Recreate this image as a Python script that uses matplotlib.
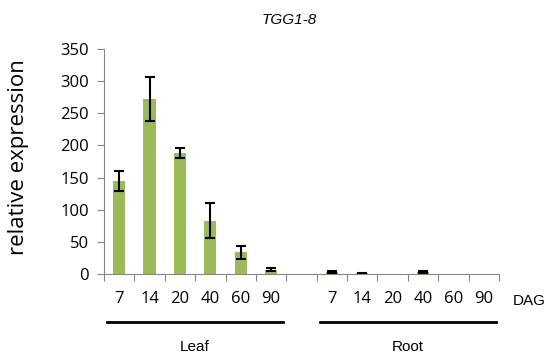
import numpy as np
import matplotlib
matplotlib.use('Agg')
import matplotlib.pyplot as plt
from matplotlib.transforms import blended_transform_factory

plt.rcParams['font.family'] = ['Open Sans', 'DejaVu Sans']

# --- Data ---
days = ['7', '14', '20', '40', '60', '90']
groups = ['Leaf', 'Root']
leaf_vals = [145, 272, 188, 83, 34, 7]
leaf_err = [16, 34, 8, 27, 10, 2]
root_vals = [3, 1, 0, 3, 0, 0]
root_err = [1.5, 0.5, 0, 1.5, 0, 0]

bar_color = '#9bbb59'

fig = plt.figure(figsize=(5.51, 3.56), dpi=100)
ax = fig.add_axes([0.1887, 0.2303, 0.7169, 0.6321])

# leaf in slots 0-5, empty slot 6, root in slots 7-12
x_leaf = np.arange(len(days))
x_root = np.arange(len(days)) + len(days) + 1
for xs, vals, errs in [(x_leaf, leaf_vals, leaf_err), (x_root, root_vals, root_err)]:
    ax.bar(xs, vals, width=0.4, color=bar_color)
    vals, errs = np.array(vals, float), np.array(errs, float)
    keep = errs > 0
    ax.errorbar(xs[keep], vals[keep], yerr=errs[keep], fmt='none', ecolor='black',
                elinewidth=1.5, capsize=3.5, capthick=1.5)

ax.set_xlim(-0.5, 12.5)
ax.set_ylim(0, 350)
ax.set_yticks(np.arange(0, 351, 50))
ax.tick_params(axis='y', labelsize=12, color='#868686', length=5, pad=6)

# x ticks at slot borders, labels in the slot centres
ax.set_xticks(np.arange(-0.5, 13, 1.0))
ax.set_xticklabels([])
ax.tick_params(axis='x', color='#868686', length=5)
ax.set_xticks(np.concatenate([x_leaf, x_root]), minor=True)
ax.set_xticklabels(days + days, minor=True, fontsize=12)
ax.tick_params(axis='x', which='minor', length=0, pad=12)

for s in ['top', 'right']:
    ax.spines[s].set_visible(False)
for s in ['left', 'bottom']:
    ax.spines[s].set_color('#868686')

ax.set_ylabel('relative expression', fontsize=16)
ax.yaxis.set_label_coords(-0.19, 0.52)
ax.set_title('TGG1-8', fontsize=11, style='italic', family='Liberation Sans', x=0.47, pad=18)

trans = blended_transform_factory(ax.transData, ax.transAxes)
ax.text(12.95, -0.12, 'DAG', transform=trans, fontsize=11, family='Liberation Sans',
        ha='left', va='center')
for xs, name in zip([x_leaf, x_root], groups):
    ax.plot([xs[0] - 0.4, xs[-1] + 0.4], [-0.215, -0.215], transform=trans,
            color='black', lw=2, clip_on=False)
    ax.text(xs.mean(), -0.325, name, transform=trans, fontsize=11,
            family='Liberation Sans', ha='center', va='center')

fig.savefig('out.png', dpi=100)
